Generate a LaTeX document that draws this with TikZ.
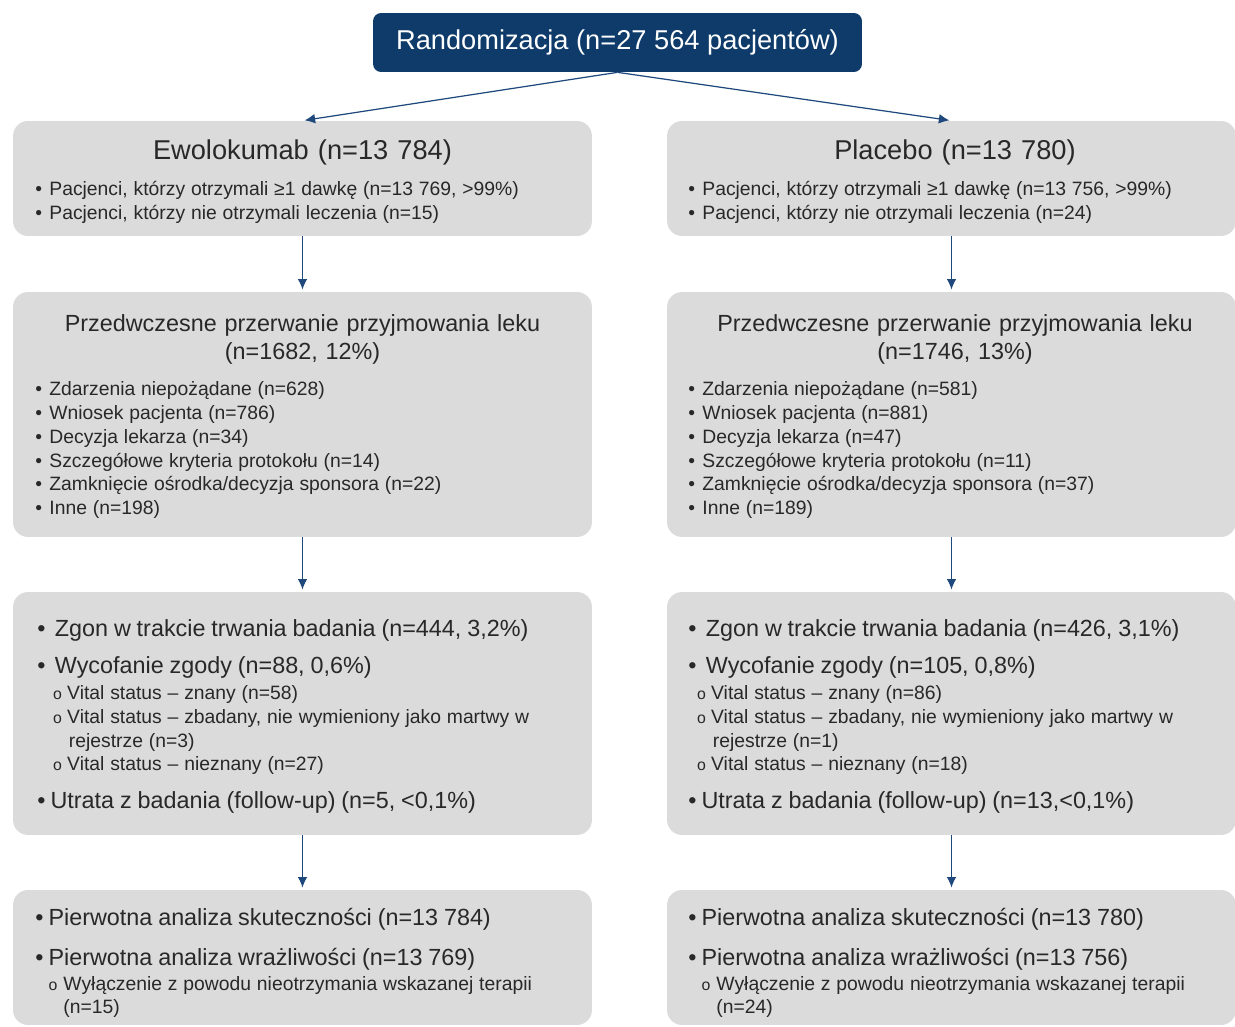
\documentclass[tikz,border=0pt]{standalone}
\usepackage{fontspec}
\setmainfont{Liberation Sans}
\usepackage{xcolor}
\usetikzlibrary{calc,positioning,arrows.meta}
\definecolor{navyorg}{RGB}{14,59,105}
\definecolor{greyorg}{RGB}{219,219,219}
\definecolor{textorg}{RGB}{40,40,40}
\definecolor{arroworg}{RGB}{31,73,125}

\newcommand{\bigfont}{\fontsize{15.5}{18}\selectfont}
\newcommand{\headfont}{\fontsize{13.3}{15.9}\selectfont}
% list lines: baselineskip, indent, text
\newcommand{\bitem}[3]{{\fontsize{11}{#1}\selectfont\noindent\makebox[#2][l]{\textbullet}#3\par}}
\newcommand{\Bitem}[3]{{\fontsize{13.3}{#1}\selectfont\noindent\makebox[#2][l]{\textbullet}#3\par}}
\newcommand{\oitem}[4]{{\fontsize{11}{#1}\selectfont\noindent\hspace*{#2}\makebox[#3][l]{\fontsize{9}{9}\selectfont o}#4\par}}
\newcommand{\wrapline}[3]{{\fontsize{11}{#1}\selectfont\noindent\hspace*{#2}#3\par}}

\begin{document}
\begin{tikzpicture}[x=0.02cm,y=-0.02cm]

  \tikzstyle{every node}=[text=textorg, inner sep=0pt]
  \tikzstyle{topbox}=[fill=navyorg, text=white, rounded corners=0.16cm, font=\bigfont]
  \tikzstyle{panel}=[fill=greyorg, rounded corners=0.3cm]
  \tikzstyle{heading}=[anchor=base, text width=11cm, align=center]
  \tikzstyle{list}=[anchor=base west, text width=10.8cm]
  \tikzstyle{every edge}=[draw=arroworg, line width=0.7pt, -{Latex[length=6pt,width=5.5pt]}, shorten >=1.2pt]

  \useasboundingbox (0,0) rectangle (1235,1027);

  % boxes
  \node[topbox, minimum width=9.78cm, minimum height=1.18cm] (rand) at (617.5,42.5) {Randomizacja (n=27 564 pacjentów)};

  \node[panel, minimum width=11.58cm, minimum height=2.3cm] (ewo) at (302.5,178.5) {};
  \node[panel, minimum width=11.38cm, minimum height=2.3cm] (pla) at (951.5,178.5) {};
  \node[panel, minimum width=11.58cm, minimum height=4.9cm] (ewoStop) at (302.5,414.5) {};
  \node[panel, minimum width=11.38cm, minimum height=4.9cm] (plaStop) at (951.5,414.5) {};
  \node[panel, minimum width=11.58cm, minimum height=4.86cm] (ewoOut) at (302.5,713.5) {};
  \node[panel, minimum width=11.38cm, minimum height=4.86cm] (plaOut) at (951.5,713.5) {};
  \node[panel, minimum width=11.58cm, minimum height=2.7cm] (ewoAn) at (302.5,957.5) {};
  \node[panel, minimum width=11.38cm, minimum height=2.7cm] (plaAn) at (951.5,957.5) {};

  % row 1
  \node[heading, font=\bigfont] (ewoT) at (302.5,160) {Ewolokumab (n=13 784)};
  \node[list] (ewoL) at (35,196) {%
    \bitem{13.6pt}{8pt}{Pacjenci, którzy otrzymali ≥1 dawkę (n=13 769, >99\%)}
    \bitem{13.6pt}{8pt}{Pacjenci, którzy nie otrzymali leczenia (n=15)}};
  \node[heading, font=\bigfont] (plaT) at (955,160) {Placebo (n=13 780)};
  \node[list] (plaL) at (688,196) {%
    \bitem{13.6pt}{8pt}{Pacjenci, którzy otrzymali ≥1 dawkę (n=13 756, >99\%)}
    \bitem{13.6pt}{8pt}{Pacjenci, którzy nie otrzymali leczenia (n=24)}};

  % row 2
  \node[heading, font=\headfont] (ewoStopT) at (302.5,332) {Przedwczesne przerwanie przyjmowania leku\\(n=1682, 12\%)};
  \node[list] (ewoStopL) at (35,396) {%
    \bitem{13.5pt}{8pt}{Zdarzenia niepożądane (n=628)}
    \bitem{13.5pt}{8pt}{Wniosek pacjenta (n=786)}
    \bitem{13.5pt}{8pt}{Decyzja lekarza (n=34)}
    \bitem{13.5pt}{8pt}{Szczegółowe kryteria protokołu (n=14)}
    \bitem{13.5pt}{8pt}{Zamknięcie ośrodka/decyzja sponsora (n=22)}
    \bitem{13.5pt}{8pt}{Inne (n=198)}};
  \node[heading, font=\headfont] (plaStopT) at (955,332) {Przedwczesne przerwanie przyjmowania leku\\(n=1746, 13\%)};
  \node[list] (plaStopL) at (688,396) {%
    \bitem{13.5pt}{8pt}{Zdarzenia niepożądane (n=581)}
    \bitem{13.5pt}{8pt}{Wniosek pacjenta (n=881)}
    \bitem{13.5pt}{8pt}{Decyzja lekarza (n=47)}
    \bitem{13.5pt}{8pt}{Szczegółowe kryteria protokołu (n=11)}
    \bitem{13.5pt}{8pt}{Zamknięcie ośrodka/decyzja sponsora (n=37)}
    \bitem{13.5pt}{8pt}{Inne (n=189)}};

  % row 3
  \node[list] (ewoOutL) at (37,636) {%
    \Bitem{21.5pt}{10pt}{Zgon w trakcie trwania badania (n=444, 3,2\%)}
    \Bitem{21.5pt}{10pt}{Wycofanie zgody (n=88, 0,6\%)}
    \oitem{14.5pt}{9pt}{8pt}{Vital status – znany (n=58)}
    \oitem{13.6pt}{9pt}{8pt}{Vital status – zbadany, nie wymieniony jako martwy w}
    \wrapline{13.6pt}{18pt}{rejestrze (n=3)}
    \oitem{13.6pt}{9pt}{8pt}{Vital status – nieznany (n=27)}
    \Bitem{21.2pt}{7.5pt}{Utrata z badania (follow-up) (n=5, <0,1\%)}};
  \node[list] (plaOutL) at (688,636) {%
    \Bitem{21.5pt}{10pt}{Zgon w trakcie trwania badania (n=426, 3,1\%)}
    \Bitem{21.5pt}{10pt}{Wycofanie zgody (n=105, 0,8\%)}
    \oitem{14.5pt}{5pt}{8pt}{Vital status – znany (n=86)}
    \oitem{13.6pt}{5pt}{8pt}{Vital status – zbadany, nie wymieniony jako martwy w}
    \wrapline{13.6pt}{14pt}{rejestrze (n=1)}
    \oitem{13.6pt}{5pt}{8pt}{Vital status – nieznany (n=18)}
    \Bitem{21.2pt}{7.5pt}{Utrata z badania (follow-up) (n=13,<0,1\%)}};

  % row 4
  \node[list] (ewoAnL) at (35,925) {%
    \Bitem{23pt}{7.5pt}{Pierwotna analiza skuteczności (n=13 784)}
    \Bitem{23.2pt}{7.5pt}{Pierwotna analiza wrażliwości (n=13 769)}
    \oitem{14pt}{7.5pt}{8.5pt}{Wyłączenie z powodu nieotrzymania wskazanej terapii}
    \wrapline{13pt}{16pt}{(n=15)}};
  \node[list] (plaAnL) at (688,925) {%
    \Bitem{23pt}{7.5pt}{Pierwotna analiza skuteczności (n=13 780)}
    \Bitem{23.2pt}{7.5pt}{Pierwotna analiza wrażliwości (n=13 756)}
    \oitem{14pt}{7.5pt}{8.5pt}{Wyłączenie z powodu nieotrzymania wskazanej terapii}
    \wrapline{13pt}{16pt}{(n=24)}};

  % arrows
  \path (rand.south) edge (ewo.north);
  \path (rand.south) edge (pla.north);
  \path (ewo.south) edge (ewoStop.north);
  \path (pla.south) edge (plaStop.north);
  \path (ewoStop.south) edge (ewoOut.north);
  \path (plaStop.south) edge (plaOut.north);
  \path (ewoOut.south) edge (ewoAn.north);
  \path (plaOut.south) edge (plaAn.north);
\end{tikzpicture}
\end{document}
